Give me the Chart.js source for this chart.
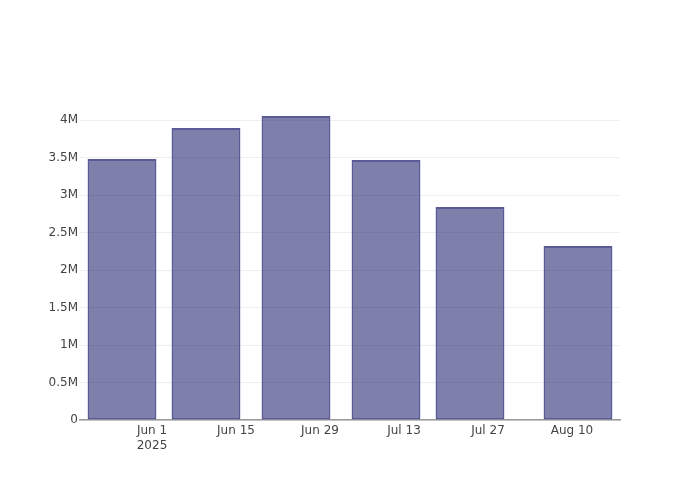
<!DOCTYPE html>
<html>
<head>
<meta charset="utf-8">
<script src="https://cdn.jsdelivr.net/npm/chart.js@4"></script>
<style>
  body { margin: 0; background: #fff; }
  #wrap { width: 700px; height: 500px; }
</style>
</head>
<body>
<div id="wrap"><canvas id="chart" width="700" height="500"></canvas></div>
<script>
// bar dates and values
const barDates = ['2025-05-27', '2025-06-10', '2025-06-25', '2025-07-10', '2025-07-24', '2025-08-11'];
const barValues = [3480000, 3893000, 4053000, 3467000, 2840000, 2320000];

// x tick dates and their labels
const tickDates = ['2025-06-01', '2025-06-15', '2025-06-29', '2025-07-13', '2025-07-27', '2025-08-10'];
const tickLabels = [['Jun 1', '2025'], 'Jun 15', 'Jun 29', 'Jul 13', 'Jul 27', 'Aug 10'];

const yTicks = [0, 500000, 1000000, 1500000, 2000000, 2500000, 3000000, 3500000, 4000000];
const yTickLabels = ['0', '0.5M', '1M', '1.5M', '2M', '2.5M', '3M', '3.5M', '4M'];

// x axis range
const xStart = '2025-05-20';
const xEnd = '2025-08-18';

const base = Date.UTC(2025, 5, 1);
function dayNum(s) {
    const p = s.split('-').map(Number);
    return (Date.UTC(p[0], p[1] - 1, p[2]) - base) / 86400000;
}

const points = barDates.map((d, i) => ({ x: dayNum(d), y: barValues[i] }));
const tickDays = tickDates.map(dayNum);

Chart.defaults.font.family = 'DejaVu Sans';
Chart.defaults.font.size = 12;
Chart.defaults.color = '#444';

new Chart(document.getElementById('chart').getContext('2d'), {
    type: 'bar',
    data: {
        datasets: [{
            data: points,
            backgroundColor: 'rgba(0, 0, 90, 0.5)',
            borderColor: '#5a5a96',
            borderWidth: 2,
            borderSkipped: false,
            barPercentage: 0.82,
            categoryPercentage: 1
        }]
    },
    options: {
        responsive: false,
        animation: false,
        layout: { padding: { left: 0, right: 80, top: 100, bottom: 0 } },
        plugins: { legend: { display: false }, tooltip: { enabled: false } },
        scales: {
            x: {
                type: 'linear',
                offset: false,
                min: dayNum(xStart),
                max: dayNum(xEnd),
                grid: { display: false, drawTicks: false },
                border: { display: true, color: '#999', width: 1.5 },
                afterBuildTicks: scale => {
                    scale.ticks = tickDays.map(v => ({ value: v }));
                },
                ticks: {
                    padding: 4,
                    maxRotation: 0,
                    autoSkip: false,
                    callback: (v) => tickLabels[tickDays.indexOf(v)]
                },
                afterFit: scale => { scale.height = 80; }
            },
            y: {
                min: 0,
                max: 4266667,
                grid: { color: '#eeeeee', drawTicks: false },
                border: { display: false },
                afterBuildTicks: scale => {
                    scale.ticks = yTicks.map(v => ({ value: v }));
                },
                ticks: {
                    padding: 2,
                    callback: (v) => yTickLabels[yTicks.indexOf(v)]
                },
                afterFit: scale => { scale.width = 80; }
            }
        }
    }
});
</script>
</body>
</html>
